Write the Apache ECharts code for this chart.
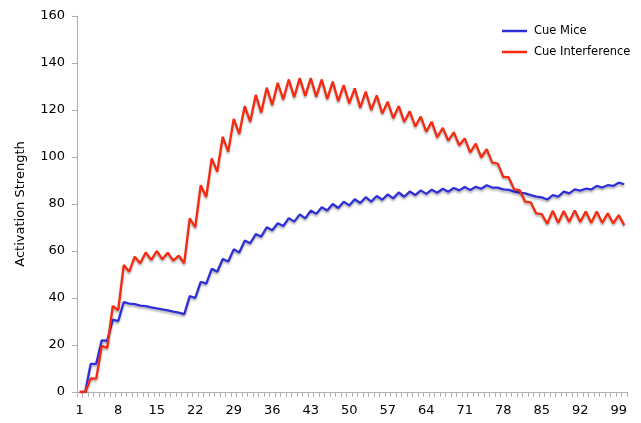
<!DOCTYPE html>
<html>
<head>
<meta charset="utf-8">
<script src="https://cdn.jsdelivr.net/npm/echarts@6/dist/echarts.min.js"></script>
<style>html,body{margin:0;padding:0;background:#fff;}#c{width:641px;height:423px;}</style>
</head>
<body>
<div id="c"></div>
<script>
const categories = Array.from({length: 100}, (_, k) => String(k + 1));
const cueMice = [
0,0,12,12,22,21.8,30.8,30.2,38.3,37.6,
37.4,36.8,36.5,36,35.6,35.2,34.7,34.2,33.8,33.1,
40.8,40,46.9,46.1,52.4,51.2,56.6,55.5,60.7,59.4,
64.4,63.3,67.2,66.1,70.1,68.8,71.8,70.6,74,72.5,
75.6,73.9,77.2,75.8,78.6,77.2,80,78.3,81,79.4,
82,80.4,82.9,81,83.4,81.8,84.1,82.4,84.9,83.1,
85.3,83.8,85.8,84.3,86.1,84.8,86.5,85.2,86.8,85.8,
87.2,86,87.3,86.5,88,87,87,86.2,86,85.3,
84.8,84.5,83.8,83.1,82.8,81.9,83.8,83.1,85.3,84.5,
86.2,85.7,86.5,86.2,87.7,87,88,87.7,89.1,88.4
];
const cueInterference = [
0,0,5.8,5.7,19.6,18.8,36.6,34.8,54,51.2,
57.6,54.8,59.4,56.2,60,56.5,59.3,55.9,58,54.8,
73.9,70.1,88,83,99.4,93.8,108.6,102.3,116.2,109.8,
121.7,115,126.4,118.9,129.5,122.1,131.6,124.5,133,125.5,
133.6,126,133.6,125.7,133,124.7,132.1,123.8,130.6,122.8,
129.2,121,127.8,120,126.2,118.5,123.5,116.5,121.7,115,
119.4,113,117.2,110.8,115,108.4,112.4,107,110.5,105,
107.9,102,105.7,99.9,103.3,97.6,97.2,91.6,91.3,86.2,
85.9,81,80.7,76,75.7,71.6,77.1,72,77,72.4,
77.2,72.4,76.8,72,76.8,72,76,71.8,75.3,71
];
const yTicks = [0, 20, 40, 60, 80, 100, 120, 140, 160];

const font = "'DejaVu Sans', Verdana, sans-serif";
const chart = echarts.init(document.getElementById('c'), null, {renderer: 'canvas'});
chart.setOption({
  animation: false,
  backgroundColor: '#ffffff',
  textStyle: {fontFamily: font},
  grid: {left: 77, right: 14, top: 16, bottom: 31, containLabel: false},
  legend: {
    orient: 'vertical', left: 497, top: 20, itemGap: 9,
    itemWidth: 25, itemHeight: 2.5,
    textStyle: {fontFamily: font, fontSize: 11.5, color: '#000', padding: [0, 0, 0, 2]},
    data: [
      {name: 'Cue Mice', icon: 'rect'},
      {name: 'Cue Interference', icon: 'rect'}
    ]
  },
  xAxis: {
    type: 'category', data: categories, boundaryGap: true,
    axisLine: {lineStyle: {color: '#b0b0b0', width: 1}},
    axisTick: {show: true, interval: 0, length: 5, lineStyle: {color: '#b0b0b0'}},
    axisLabel: {interval: 6, margin: 12, fontFamily: font, fontSize: 13, color: '#000'},
    splitLine: {show: false}
  },
  yAxis: {
    type: 'value', min: 0, max: 160, interval: 20,
    name: 'Activation Strength', nameLocation: 'middle', nameGap: 50,
    nameTextStyle: {fontFamily: font, fontSize: 13, color: '#000'},
    axisLine: {show: true, lineStyle: {color: '#b0b0b0', width: 1}},
    axisTick: {show: true, length: 5, lineStyle: {color: '#b0b0b0'}},
    axisLabel: {margin: 12, fontFamily: font, fontSize: 13, color: '#000',
      formatter: v => yTicks.includes(v) ? String(v) : ''},
    splitLine: {show: false}
  },
  series: [
    {
      name: 'Cue Mice', type: 'line', data: cueMice, symbol: 'none',
      itemStyle: {color: '#2f2fd8'},
      lineStyle: {color: '#2f2fd8', width: 2.3, shadowColor: 'rgba(0,0,0,0.3)', shadowBlur: 2, shadowOffsetY: 2}
    },
    {
      name: 'Cue Interference', type: 'line', data: cueInterference, symbol: 'none',
      itemStyle: {color: '#f52a10'},
      lineStyle: {color: '#f52a10', width: 2.3, shadowColor: 'rgba(0,0,0,0.3)', shadowBlur: 2, shadowOffsetY: 2}
    }
  ]
});
</script>
</body>
</html>
